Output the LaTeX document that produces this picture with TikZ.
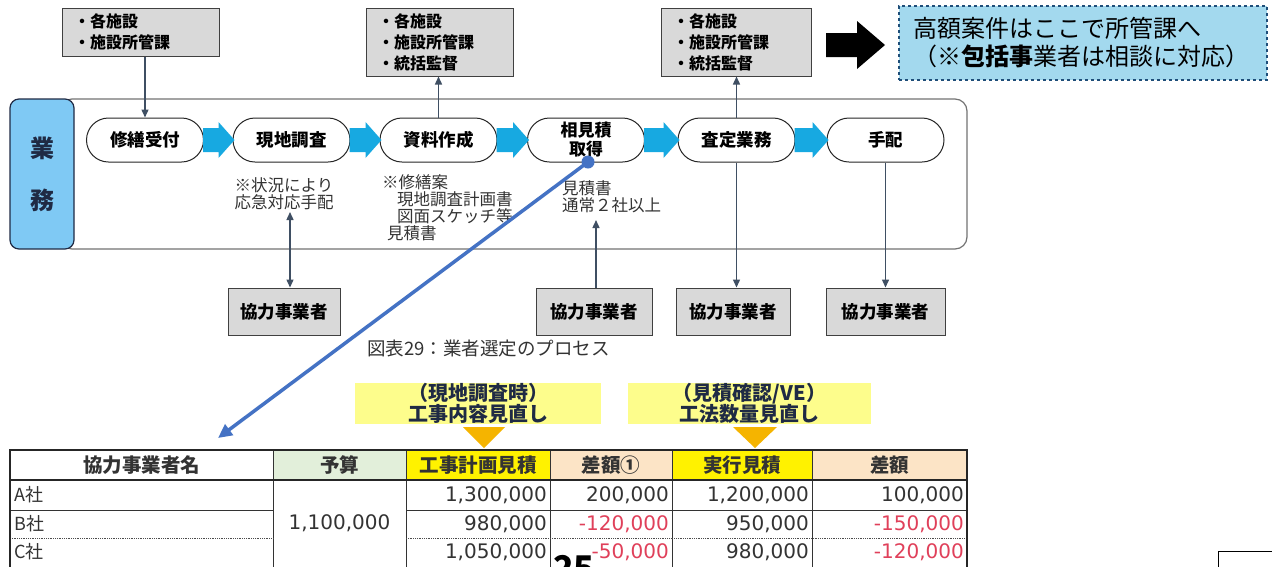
\documentclass[tikz,border=0pt]{standalone}
\usepackage{fontspec}
\setmainfont{Noto Sans CJK JP}
\newfontfamily\numfont{DejaVu Sans}
\usetikzlibrary{arrows.meta,shapes.misc,calc}
\definecolor{arrowc}{HTML}{3F4F63}
\definecolor{chevc}{HTML}{17A9E1}
\definecolor{gyomuc}{HTML}{7FC9F4}
\definecolor{navy}{HTML}{1F2A44}
\definecolor{dashbox}{HTML}{A3D9EE}
\definecolor{dashline}{HTML}{1F4E79}
\definecolor{bluel}{HTML}{4472C4}
\definecolor{lyel}{HTML}{FDFD8C}
\definecolor{tri}{HTML}{F5B400}
\definecolor{hgreen}{HTML}{E2EFDA}
\definecolor{hpeach}{HTML}{FCE4C6}
\definecolor{redn}{HTML}{E0405A}
\definecolor{txtg}{HTML}{333333}
\tikzset{
  topbox/.style={draw=black!75, fill=black!15, line width=1pt, inner xsep=12pt, inner ysep=0pt,
    align=left, font=\bfseries\fontsize{16}{21}\selectfont},
  pill/.style={draw=black!85, fill=white, line width=1pt, rounded rectangle, minimum height=44,
    minimum width=117, inner sep=0pt, align=center, font=\bfseries\fontsize{17.5}{20}\selectfont},
  botbox/.style={draw=black!75, fill=black!15, line width=1pt, minimum height=47, inner sep=0pt,
    font=\bfseries\fontsize{17.5}{20}\selectfont},
  conn/.style={draw=arrowc, line width=1.4pt, -{Triangle[length=8pt,width=7pt]}},
  conntwo/.style={draw=arrowc, line width=1.4pt, {Triangle[length=8pt,width=7pt]}-{Triangle[length=8pt,width=7pt]}},
  note/.style={inner sep=0pt, align=left, text=txtg, font=\fontsize{16.5}{17}\selectfont},
  ylabel/.style={fill=lyel, inner sep=0pt, align=center, font=\bfseries\fontsize{20}{21}\selectfont, text=navy},
  thead/.style={inner sep=0pt, font=\bfseries\fontsize{19.5}{20}\selectfont, text=txtg},
  tname/.style={inner sep=0pt, anchor=west, font=\fontsize{18}{20}\selectfont, text=txtg},
  tnum/.style={inner sep=0pt, anchor=east, font=\numfont\fontsize{20}{20}\selectfont, text=txtg},
  tneg/.style={tnum, text=redn},
}
\begin{document}
\begin{tikzpicture}[x=1pt,y=-1pt]
\useasboundingbox (0,0) rectangle (1272,566);
\fill[white] (0,0) rectangle (1272,566);

% top boxes
\node[topbox, minimum width=157, minimum height=48, text width=133] (t1) at (140.5,32) {・各施設\\・施設所管課};
\node[topbox, minimum width=147, minimum height=68, text width=123] (t2) at (439.5,42) {・各施設\\・施設所管課\\・統括監督};
\node[topbox, minimum width=150, minimum height=68, text width=126] (t3) at (736,42) {・各施設\\・施設所管課\\・統括監督};

% big black arrow
\fill[black] (826,33) -- (857,33) -- (857,21) -- (885,45) -- (857,69) -- (857,57) -- (826,57) -- cycle;

% dashed info box
\node[draw=dashline, dashed, line width=1.2pt, fill=dashbox, minimum width=368, minimum height=74,
  inner xsep=14pt, inner ysep=0pt, text width=340, align=left, font=\fontsize{24}{28}\selectfont] (info) at (1083,43)
  {高額案件はここで所管課へ\\（\textbf{※包括事}業者は相談に対応）};

% outer frame
\draw[black!55, line width=1.2pt, rounded corners=12] (60,99) rectangle (967,249);
\node[draw=navy, fill=gyomuc, line width=1.2pt, rounded corners=9, minimum width=64, minimum height=150,
  inner sep=0pt, align=center, text=navy, font=\bfseries\fontsize{24}{52}\selectfont] (gyomu) at (42,174) {業\\務};

% pills
\node[pill] (p1) at (145,140) {修繕受付};
\node[pill] (p2) at (291.5,140) {現地調査};
\node[pill] (p3) at (438.5,140) {資料作成};
\node[pill, font=\bfseries\fontsize{17}{19}\selectfont] (p4) at (586,140) {相見積\\取得};
\node[pill] (p5) at (736.5,140) {査定業務};
\node[pill] (p6) at (885.5,140) {手配};

% chevrons
\foreach \a/\b in {p1/p2,p2/p3,p3/p4,p4/p5,p5/p6}{
  \fill[chevc] ($(\a.east)+(-1,-12)$) -- ($(\b.west)+(-14,-12)$) -- ($(\b.west)+(-14,-18)$)
    -- ($(\b.west)+(2,0)$) -- ($(\b.west)+(-14,18)$) -- ($(\b.west)+(-14,12)$) -- ($(\a.east)+(-1,12)$) -- cycle;
}

% notes
\node[note, align=center, anchor=north] (n1) at (284,177) {※状況により\\応急対応手配};
\node[note, anchor=north west] (n2) at (382,174) {※修繕案\\\hspace*{15pt}現地調査計画書\\\hspace*{15pt}図面スケッチ等\\\hspace*{5pt}見積書};
\node[note, anchor=north west] (n3) at (562,180) {見積書\\通常２社以上};

% bottom boxes
\node[botbox, minimum width=112] (b1) at (284,311.5) {協力事業者};
\node[botbox, minimum width=116] (b2) at (594,311.5) {協力事業者};
\node[botbox, minimum width=114] (b3) at (733,311.5) {協力事業者};
\node[botbox, minimum width=119] (b4) at (885.5,311.5) {協力事業者};

% connectors
\draw[conn] (p1.north |- t1.south) -- (p1.north);
\draw[conn] (p3.north) -- (p3.north |- t2.south);
\draw[conn] (p5.north) -- (p5.north |- t3.south);
\coordinate (n1a) at (290,212);
\draw[conntwo] (n1a) -- (n1a |- b1.north);
\coordinate (n3a) at (596,220);
\draw[conn] (n3a |- b2.north) -- (n3a);
\draw[conn] (p5.south) -- (p5.south |- b3.north);
\draw[conn] (p6.south) -- (p6.south |- b4.north);

% caption
\node[inner sep=0pt, anchor=west, text=txtg, font=\fontsize{18.5}{20}\selectfont] (cap) at (367,348) {図表29：業者選定のプロセス};

% blue pointer line
\coordinate (dot) at (588,162);
\coordinate (tbl) at (218,438);
\draw[bluel, line width=3.5pt, -{Triangle[length=14pt,width=13pt]}] (dot) -- (tbl);
\fill[bluel] (dot) circle (6.5);

% yellow labels
\node[ylabel, minimum width=246, minimum height=41] (y1) at (478,403.5) {（現地調査時）\\工事内容見直し};
\node[ylabel, minimum width=243, minimum height=41] (y2) at (749.5,403.5) {（見積確認/VE）\\工法数量見直し};
\fill[tri] (463,427) -- (505,427) -- (484,448) -- cycle;
\fill[tri] (733,427) -- (777,427) -- (755,448) -- cycle;

% table header fills
\fill[white] (10,450) rectangle (273,480);
\fill[hgreen] (273,450) rectangle (406,480);
\fill[yellow] (406,450) rectangle (550,480);
\fill[hpeach] (550,450) rectangle (672,480);
\fill[yellow] (672,450) rectangle (812,480);
\fill[hpeach] (812,450) rectangle (967,480);
% table lines
\draw[black!80, line width=1pt] (273,450) -- (273,570) (406,450) -- (406,570) (550,450) -- (550,570)
  (672,450) -- (672,570) (812,450) -- (812,570);
\draw[black!80, line width=1pt] (10,510) -- (273,510) (406,510) -- (967,510);
\draw[black!70, line width=0.8pt, densely dotted] (10,538) -- (273,538) (406,538) -- (967,538);
\draw[black!85, line width=2pt] (10,480) -- (967,480);
\draw[black!85, line width=1.5pt] (10,570) -- (10,450) -- (967,450) -- (967,570);

\node[thead] (h1) at (141.5,465) {協力事業者名};
\node[thead] (h2) at (339.5,465) {予算};
\node[thead] (h3) at (478,465) {工事計画見積};
\node[thead] (h4) at (611,465) {差額①};
\node[thead] (h5) at (742,465) {実行見積};
\node[thead] (h6) at (889.5,465) {差額};

\node[tname] (ra) at (14,495) {A社};
\node[tname] (rb) at (14,524) {B社};
\node[tname] (rc) at (14,552) {C社};
\node[inner sep=0pt, font=\numfont\fontsize{20}{20}\selectfont, text=txtg] (bud) at (339.5,523) {1,100,000};
\node[tnum] at (547,495) {1,300,000};
\node[tnum] at (547,524) {980,000};
\node[tnum] at (547,552) {1,050,000};
\node[tnum] at (669,495) {200,000};
\node[tneg] at (669,524) {-120,000};
\node[tneg] at (669,552) {-50,000};
\node[tnum] at (809,495) {1,200,000};
\node[tnum] at (809,524) {950,000};
\node[tnum] at (809,552) {980,000};
\node[tnum] at (964,495) {100,000};
\node[tneg] at (964,524) {-150,000};
\node[tneg] at (964,552) {-120,000};

% page number (cut off) and corner box
\node[inner sep=0pt, anchor=north west, font=\bfseries\fontsize{34}{36}\selectfont] (pg) at (553,555) {25};
\draw[black, line width=1pt] (1218,551) rectangle (1280,580);
\end{tikzpicture}
\end{document}
